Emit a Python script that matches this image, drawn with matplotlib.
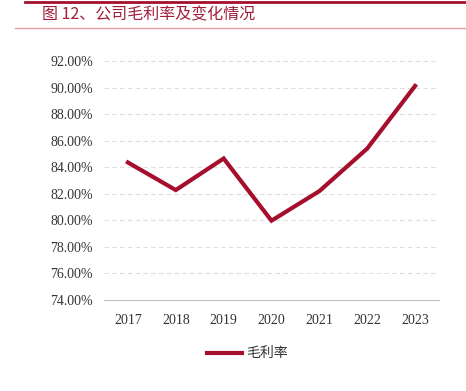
import matplotlib.pyplot as plt
from matplotlib.lines import Line2D

years = ['2017', '2018', '2019', '2020', '2021', '2022', '2023']
gross_margin = [84.37, 82.29, 84.67, 79.98, 82.21, 85.42, 90.14]
yticks = [74, 76, 78, 80, 82, 84, 86, 88, 90, 92]

red = '#a50f2d'
cjk = ['Noto Sans CJK SC', 'DejaVu Sans']

fig = plt.figure(figsize=(4.66, 3.91), dpi=100)
ax = fig.add_axes([104 / 466, 1 - 300 / 391, (439 - 104) / 466, (300 - 52) / 391])

x = list(range(len(years)))
ax.plot(x, gross_margin, color=red, lw=3.0, solid_joinstyle='miter')
ax.set_xlim(-0.5, len(years) - 0.5)
ax.set_ylim(74, 92.7)
ax.set_yticks(yticks)
ax.set_yticklabels([f'{v:.2f}%' for v in yticks], family='Liberation Serif', fontsize=10, color='#333333')
ax.set_xticks(x)
ax.set_xticklabels(years, family='Liberation Serif', fontsize=10, color='#333333')
ax.tick_params(length=0, pad=8)
ax.tick_params(axis='x', pad=10)
ax.yaxis.grid(True, ls=(0, (4, 3)), color='#dedede', lw=0.8)
ax.set_axisbelow(True)
for s in ['top', 'right', 'left']:
    ax.spines[s].set_visible(False)
ax.spines['bottom'].set_color('#bfbfbf')

# header lines and title
fig.add_artist(Line2D([25 / 466, 1], [1 - 1.5 / 391] * 2, color='#a50f2d', lw=2))
fig.add_artist(Line2D([15 / 466, 1], [1 - 28 / 391] * 2, color='#e8a0a8', lw=1))
title = '图 12、公司毛利率及变化情况'
fig.text(42 / 466, 1 - 15 / 391, title, family=cjk, fontsize=11.5,
         color='#a01c3a', va='center', ha='left')

# legend
fig.add_artist(Line2D([207 / 466, 242 / 466], [1 - 353 / 391] * 2, color=red, lw=3))
fig.text(246 / 466, 1 - 353 / 391, '毛利率', family=cjk, fontsize=10, color='#333333', va='center')

fig.savefig('out.png', dpi=100)
